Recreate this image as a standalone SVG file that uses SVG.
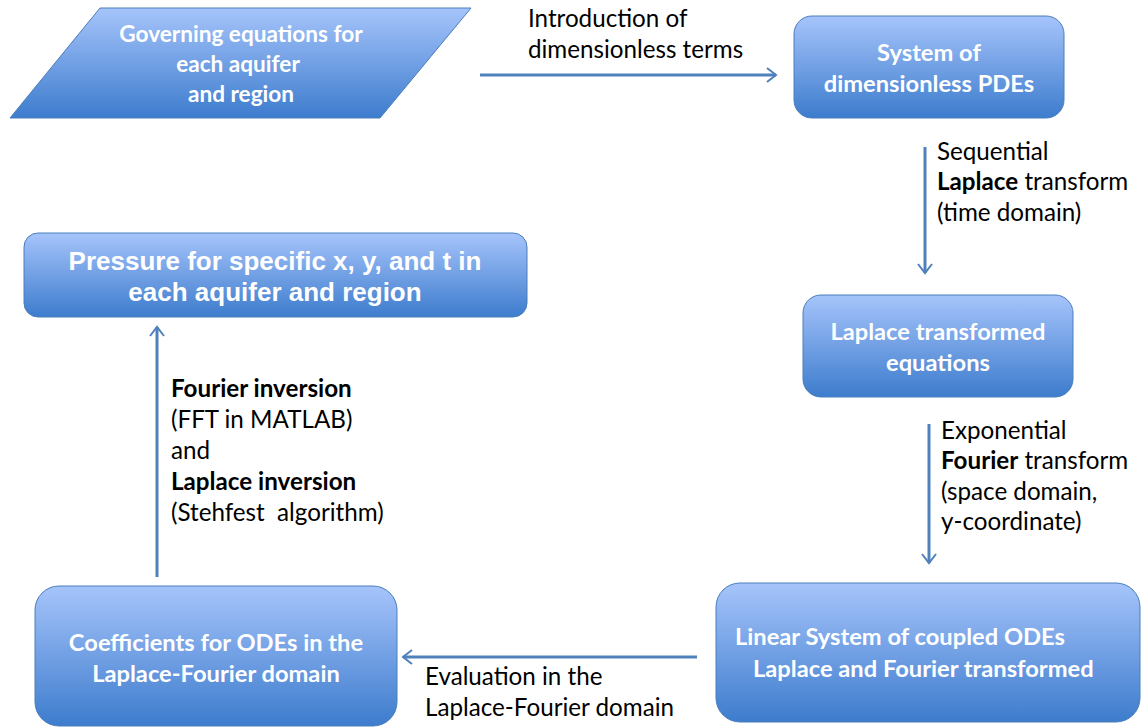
<svg xmlns="http://www.w3.org/2000/svg" width="1142" height="727" viewBox="0 0 1142 727">
<defs>
<linearGradient id="g" x1="0" y1="0" x2="0" y2="1">
<stop offset="0" stop-color="#a6c4fb"/>
<stop offset="1" stop-color="#3d7ccd"/>
</linearGradient>
<marker id="ah" viewBox="0 0 12 16" refX="10" refY="8" markerWidth="12" markerHeight="16" markerUnits="userSpaceOnUse" orient="auto">
<polyline points="1,1 10,8 1,15" fill="none" stroke="#4f81bd" stroke-width="2"/>
</marker>
<style>
.n{fill:url(#g);stroke:#4a7ebb;stroke-width:1}
.t{font-family:Lato,"Noto Sans",sans-serif;font-weight:bold;font-size:23.7px;fill:#fff}
.tg{font-size:22.6px}
.tp{font-family:"Liberation Sans",Arial,sans-serif;font-weight:bold;font-size:26px;fill:#fff}
.l{font-family:Lato,"Noto Sans",sans-serif;font-size:24.2px;fill:#000}
.b{font-weight:bold}
.c{stroke:#4f81bd;stroke-width:3;fill:none;marker-end:url(#ah)}
</style>
</defs>
<g id="connectors">
<line class="c" x1="480" y1="75" x2="776" y2="75"/>
<line class="c" x1="925" y1="147" x2="925" y2="273"/>
<line class="c" x1="929" y1="424" x2="929" y2="563"/>
<line class="c" x1="697" y1="657" x2="403" y2="657"/>
<line class="c" x1="157" y1="577" x2="157" y2="327"/>
</g>
<g id="labels">
<text class="l" x="528" y="27">Introduction of</text>
<text class="l" x="528" y="58">dimensionless terms</text>
<text class="l" x="937" y="160">Sequential</text>
<text class="l" x="937" y="190"><tspan class="b">Laplace</tspan> transform</text>
<text class="l" x="937" y="221">(time domain)</text>
<text class="l" x="941" y="439">Exponential</text>
<text class="l" x="941" y="469"><tspan class="b">Fourier</tspan> transform</text>
<text class="l" x="941" y="500">(space domain,</text>
<text class="l" x="941" y="530">y-coordinate)</text>
<text class="l" x="425" y="685">Evaluation in the</text>
<text class="l" x="425" y="716">Laplace-Fourier domain</text>
<text class="l b" x="171" y="397">Fourier inversion</text>
<text class="l" x="171" y="428">(FFT in MATLAB)</text>
<text class="l" x="171" y="459">and</text>
<text class="l b" x="171" y="490">Laplace inversion</text>
<text class="l" x="171" y="521" xml:space="preserve">(Stehfest  algorithm)</text>
</g>
<g id="governing">
<polygon class="n" points="100,8 471,8 380,118 10,118"/>
<text class="t tg" text-anchor="middle" x="241" y="42">Governing equations for</text>
<text class="t tg" text-anchor="middle" x="238" y="72">each aquifer</text>
<text class="t tg" text-anchor="middle" x="241" y="102">and region</text>
</g>
<g id="pdes">
<rect class="n" x="794" y="16" width="270" height="102" rx="18"/>
<text class="t" text-anchor="middle" x="929" y="61">System of</text>
<text class="t" text-anchor="middle" x="929" y="92">dimensionless PDEs</text>
</g>
<g id="pressure">
<rect class="n" x="24" y="233" width="503" height="84" rx="14"/>
<text class="tp" text-anchor="middle" x="275" y="270">Pressure for specific x, y, and t in</text>
<text class="tp" text-anchor="middle" x="275" y="301">each aquifer and region</text>
</g>
<g id="laplace">
<rect class="n" x="803" y="295" width="270" height="102" rx="18"/>
<text class="t" text-anchor="middle" x="938" y="340">Laplace transformed</text>
<text class="t" text-anchor="middle" x="938" y="371">equations</text>
</g>
<g id="linear">
<rect class="n" x="716" y="583" width="424" height="139" rx="24"/>
<text class="t" x="735" y="645">Linear System of coupled ODEs</text>
<text class="t" x="753" y="677">Laplace and Fourier transformed</text>
</g>
<g id="coeff">
<rect class="n" x="35" y="586" width="362" height="140" rx="24"/>
<text class="t" text-anchor="middle" x="216" y="651">Coefficients for ODEs in the</text>
<text class="t" text-anchor="middle" x="216" y="682">Laplace-Fourier domain</text>
</g>
</svg>
